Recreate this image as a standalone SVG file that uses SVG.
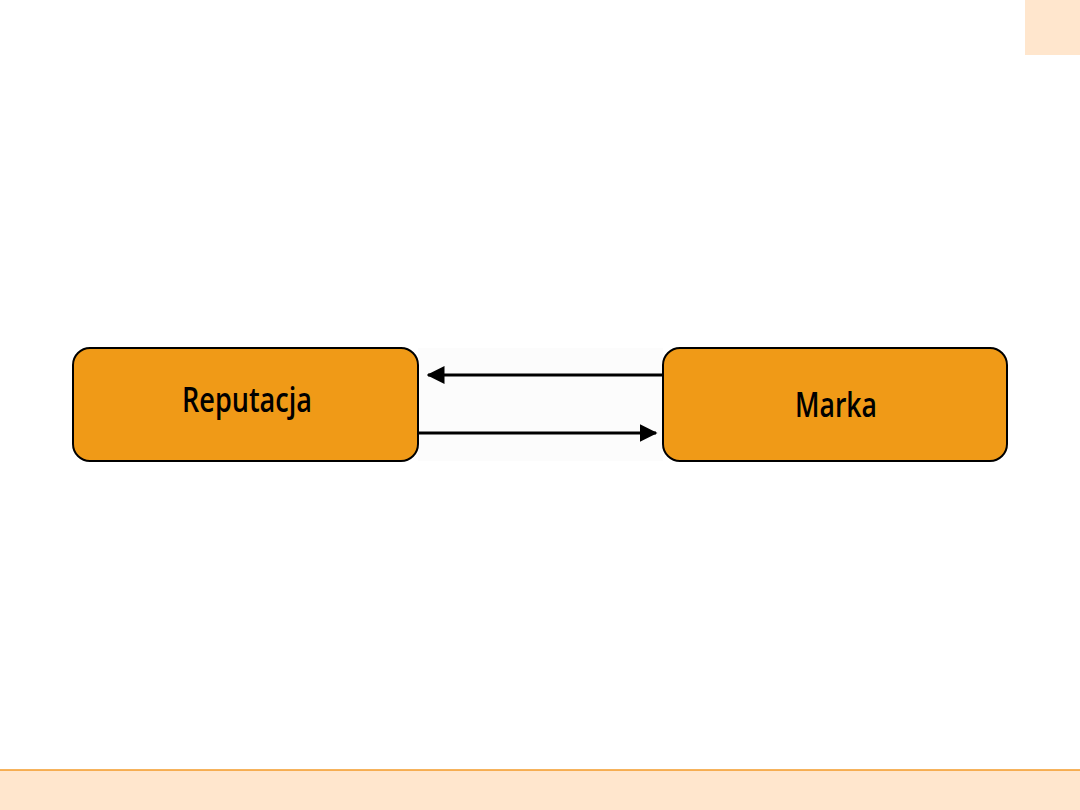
<svg xmlns="http://www.w3.org/2000/svg" width="1080" height="810" viewBox="0 0 1080 810">
<style>
.node rect{fill:#F09A17;stroke:#000;stroke-width:2}
.node text{font-family:"Open Sans","Noto Sans",sans-serif;font-weight:600;font-size:34px;fill:#000;text-anchor:middle}
.conn line{stroke:#000;stroke-width:3}
</style>
<defs>
<marker id="ah" markerWidth="6" markerHeight="6" refX="5.5" refY="3" orient="auto" markerUnits="strokeWidth">
<path d="M0,0 L6,3 L0,6 Z" fill="#000"/>
</marker>
</defs>
<rect x="0" y="0" width="1080" height="810" fill="#fff"/>
<rect x="1025" y="0" width="55" height="55" fill="#FFE6CD"/>
<rect x="0" y="770" width="1080" height="40" fill="#FFE6CD"/>
<line x1="0" y1="770" x2="1080" y2="770" stroke="#F39A27" stroke-width="1.5"/>
<rect x="418" y="348" width="245" height="113" fill="#FCFCFC"/>
<g class="conn">
<line x1="663" y1="375" x2="428" y2="375" marker-end="url(#ah)"/>
<line x1="418" y1="433" x2="656" y2="433" marker-end="url(#ah)"/>
</g>
<g id="reputacja" class="node">
<rect x="73" y="348" width="345" height="113" rx="17"/>
<text x="247" y="412" textLength="130" lengthAdjust="spacingAndGlyphs">Reputacja</text>
</g>
<g id="marka" class="node">
<rect x="663" y="348" width="344" height="113" rx="17"/>
<text x="836" y="417" textLength="82" lengthAdjust="spacingAndGlyphs">Marka</text>
</g>
</svg>
